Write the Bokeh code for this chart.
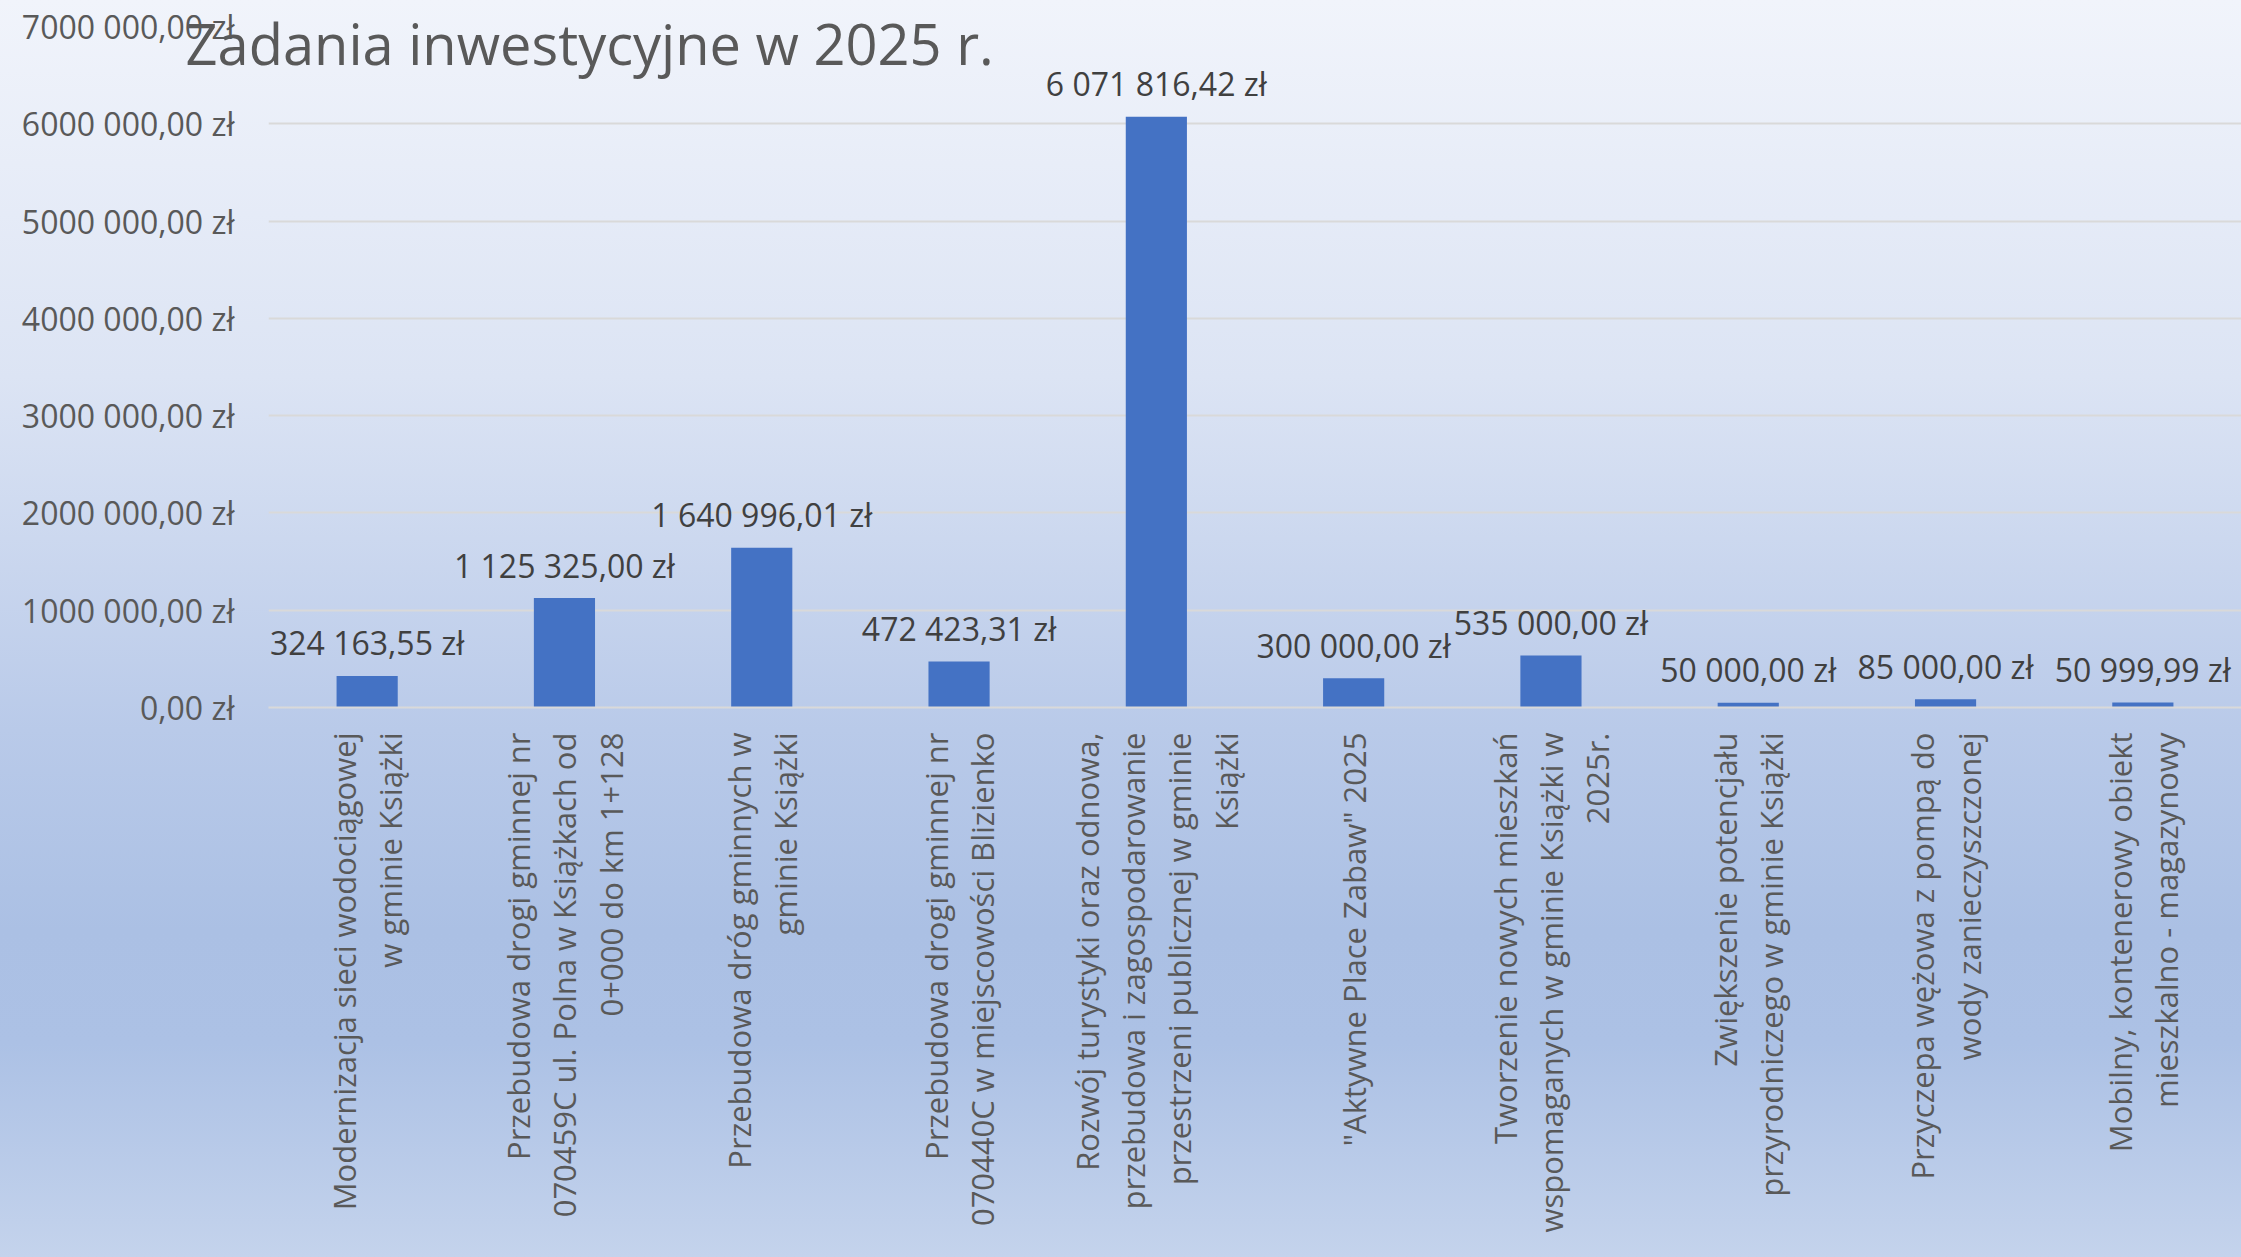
from bokeh.plotting import figure
from bokeh.models import ColumnDataSource, FixedTicker, Range1d, FactorRange, Title
from bokeh.core.properties import value
from bokeh.embed import file_html
from bokeh.resources import INLINE
import math

# ---------------- data ----------------
title_text = "Zadania inwestycyjne w 2025 r."

categories = [
    "Modernizacja sieci wodociągowej\nw gminie Książki",
    "Przebudowa drogi gminnej nr\n070459C ul. Polna w Książkach od\n0+000 do km 1+128",
    "Przebudowa dróg gminnych w\ngminie Książki",
    "Przebudowa drogi gminnej nr\n070440C w miejscowości Blizienko",
    "Rozwój turystyki oraz odnowa,\nprzebudowa i zagospodarowanie\nprzestrzeni publicznej w gminie\nKsiążki",
    "\"Aktywne Place Zabaw\" 2025",
    "Tworzenie nowych mieszkań\nwspomaganych w gminie Książki w\n2025r.",
    "Zwiększenie potencjału\nprzyrodniczego w gminie Książki",
    "Przyczepa wężowa z pompą do\nwody zanieczyszczonej",
    "Mobilny, kontenerowy obiekt\nmieszkalno - magazynowy",
]

amounts = [324163.55, 1125325.00, 1640996.01, 472423.31, 6071816.42,
           300000.00, 535000.00, 50000.00, 85000.00, 50999.99]

y_ticks = [0, 1000000, 2000000, 3000000, 4000000, 5000000, 6000000, 7000000]
y_tick_labels = ["0,00 zł", "1000 000,00 zł", "2000 000,00 zł", "3000 000,00 zł",
                 "4000 000,00 zł", "5000 000,00 zł", "6000 000,00 zł", "7000 000,00 zł"]


def pl_money(v):
    s = f"{v:,.2f}"
    return s.replace(",", " ").replace(".", ",") + " zł"


amount_labels = [pl_money(v) for v in amounts]

# ---------------- figure ----------------
W, H = 2241, 1257
p = figure(
    width=W, height=H,
    x_range=FactorRange(*categories),
    y_range=Range1d(0, 7000000),
    output_backend="svg", toolbar_location=None,
    min_border_left=268, min_border_right=0, min_border_top=26, min_border_bottom=550,
)
p.background_fill_alpha = 0
p.border_fill_alpha = 0
p.outline_line_color = None
p.styles = {
    "background": "linear-gradient(to bottom, #F1F4FB 0%, #DCE4F4 30%, #B9CAE9 58%, #ABC0E4 74%, #ACC1E5 83%, #C4D3EC 100%)"
}

src = ColumnDataSource(dict(cat=categories, amt=amounts, lab=amount_labels))

p.vbar(x="cat", top="amt", width=0.31, source=src, fill_color="#4472C4", line_color=None)

p.text(x="cat", y="amt", text="lab", source=src,
       text_align="center", text_baseline="middle", y_offset=-33,
       text_font=value("Open Sans"), text_font_size="32px", text_color="#404040")

# y axis
p.yaxis.ticker = FixedTicker(ticks=y_ticks)
p.yaxis.major_label_overrides = {t: l for t, l in zip(y_ticks, y_tick_labels)}
p.yaxis.axis_line_color = None
p.yaxis.major_tick_line_color = None
p.yaxis.minor_tick_line_color = None
p.yaxis.major_tick_out = 0
p.yaxis.major_tick_in = 0
p.yaxis.major_label_standoff = 34
p.yaxis.major_label_text_font = "Open Sans"
p.yaxis.major_label_text_font_size = "32px"
p.yaxis.major_label_text_color = "#595959"

# x axis
p.xaxis.axis_line_color = "#D9D9D9"
p.xaxis.axis_line_width = 2
p.xaxis.major_tick_line_color = None
p.xaxis.major_tick_out = 0
p.xaxis.major_tick_in = 0
p.xaxis.major_label_standoff = 25
p.xaxis.major_label_orientation = math.pi / 2
p.xaxis.major_label_text_align = "center"
p.xaxis.major_label_text_font = "Open Sans"
p.xaxis.major_label_text_font_size = "31px"
p.xaxis.major_label_text_color = "#595959"
p.xaxis.major_label_text_line_height = 1.10

# grid
p.xgrid.grid_line_color = None
p.ygrid.grid_line_color = "#D9D9D9"
p.ygrid.grid_line_width = 2

# title (drawn over the top of the plot area, as in the reference)
p.add_layout(Title(text=title_text, align="left", offset=-83, standoff=-108,
                   vertical_align="bottom", text_font="Open Sans", text_font_size="56px",
                   text_font_style="normal", text_color="#595959"), "above")

open("out.html", "w").write(file_html(p, INLINE))
